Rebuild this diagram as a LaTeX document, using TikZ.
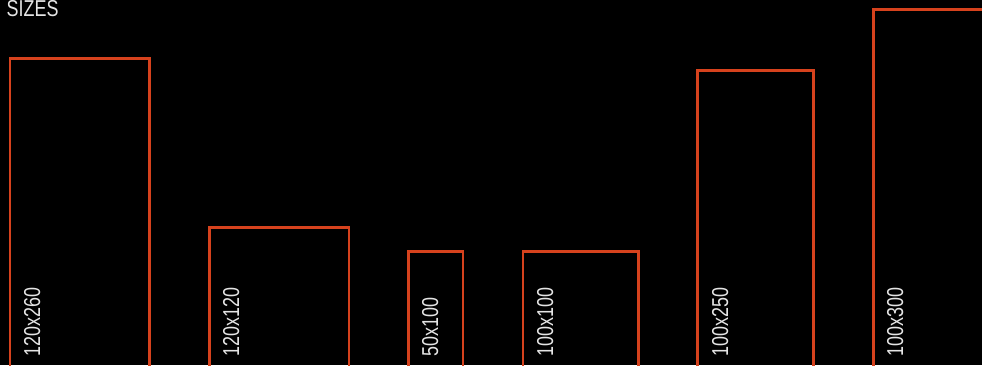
\documentclass[tikz,border=0pt]{standalone}
\usepackage{fontspec}
\setmainfont{Liberation Sans}[FakeStretch=0.78]
\definecolor{sizered}{RGB}{214,66,29}
\definecolor{sizetext}{RGB}{228,228,228}

\tikzset{
  sizebox/.style={draw=sizered, line width=2.6pt},
  sizelabel/.style={rotate=90, anchor=base west, inner sep=0pt, text=sizetext,
    font=\fontsize{23}{23}\selectfont}
}

\begin{document}
\begin{tikzpicture}[x=1pt,y=-1pt]
    % Black background, fixes the margins
    \fill[black] (0,0) rectangle (982,365);
    \useasboundingbox (0,0) rectangle (982,365);
    \clip (0,0) rectangle (982,365);

    % Title
    \node[anchor=base west, inner sep=0pt, text=sizetext,
      font=\fontsize{23}{23}\selectfont] (title) at (6.5,16.5) {SIZES};

    % Boxes, open at the bottom
    \draw[sizebox] (10,380) -- (10,58.3) -- (149.3,58.3) -- (149.3,380);
    \draw[sizebox] (209.5,380) -- (209.5,227.3) -- (349,227.3) -- (349,380);
    \draw[sizebox] (408.7,380) -- (408.7,251.7) -- (463,251.7) -- (463,380);
    \draw[sizebox] (523,380) -- (523,251.7) -- (638.7,251.7) -- (638.7,380);
    \draw[sizebox] (697.7,380) -- (697.7,70.3) -- (813.7,70.3) -- (813.7,380);
    \draw[sizebox] (873.3,380) -- (873.3,9.3) -- (990,9.3);

    % Size labels
    \node[sizelabel] (s120x260) at (40,357) {120x260};
    \node[sizelabel] (s120x120) at (239,357) {120x120};
    \node[sizelabel] (s50x100) at (438,357) {50x100};
    \node[sizelabel] (s100x100) at (553,357) {100x100};
    \node[sizelabel] (s100x250) at (728,357) {100x250};
    \node[sizelabel] (s100x300) at (903,357) {100x300};
\end{tikzpicture}
\end{document}
